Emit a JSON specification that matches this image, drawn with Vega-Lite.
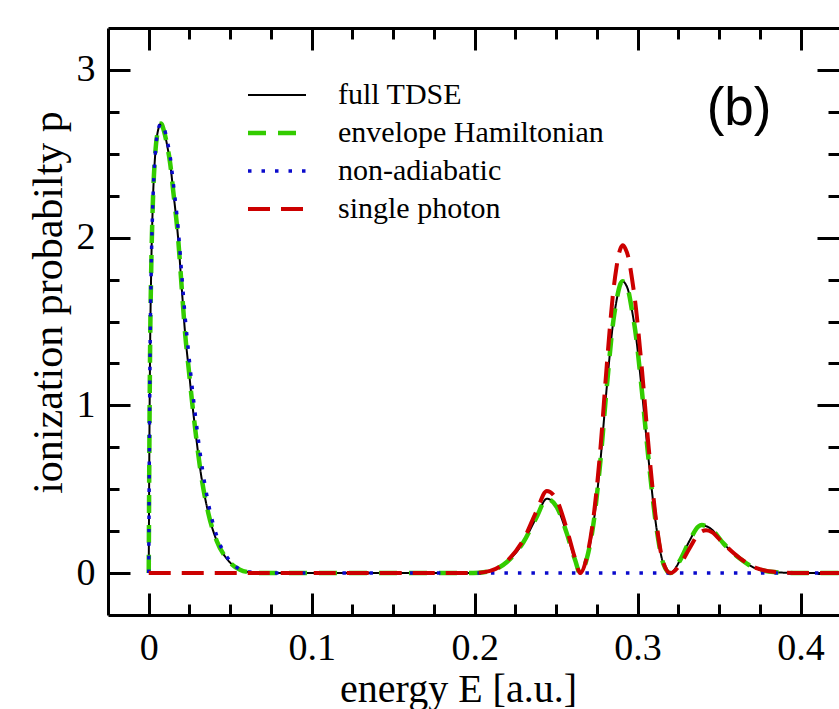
{
  "$schema": "https://vega.github.io/schema/vega-lite/v6.json",
  "width": 731,
  "height": 587,
  "autosize": {"type": "none"},
  "padding": {"left": 108, "top": 28, "right": 0, "bottom": 94},
  "background": "white",
  "config": {
    "view": {"stroke": null},
    "axis": {
      "domainColor": "black", "domainWidth": 3, "tickColor": "black", "tickWidth": 3,
      "labelFont": "Liberation Serif", "labelFontSize": 38, "labelColor": "black",
      "titleFont": "Liberation Serif", "titleFontSize": 40, "titleFontWeight": "normal", "titleColor": "black",
      "grid": false
    },
    "legend": {
      "labelFont": "Liberation Serif", "labelFontSize": 30, "labelColor": "black", "labelLimit": 0
    }
  },
  "data": {
    "values": [
      {"E": 0, "tdse": 0, "envelope": 0, "nonadiabatic": 0, "single": 0},
      {"E": 0.0003, "tdse": 0.6, "envelope": 0.6, "nonadiabatic": 0.6, "single": 0},
      {"E": 0.0008, "tdse": 1.3, "envelope": 1.3, "nonadiabatic": 1.3, "single": 0},
      {"E": 0.0015, "tdse": 1.8, "envelope": 1.8, "nonadiabatic": 1.8, "single": 0},
      {"E": 0.0025, "tdse": 2.2, "envelope": 2.2, "nonadiabatic": 2.2, "single": 0},
      {"E": 0.004, "tdse": 2.5, "envelope": 2.5, "nonadiabatic": 2.5, "single": 0},
      {"E": 0.0055, "tdse": 2.63, "envelope": 2.63, "nonadiabatic": 2.63, "single": 0},
      {"E": 0.0075, "tdse": 2.68, "envelope": 2.68, "nonadiabatic": 2.68, "single": 0},
      {"E": 0.0095, "tdse": 2.63, "envelope": 2.63, "nonadiabatic": 2.65, "single": 0},
      {"E": 0.0115, "tdse": 2.54, "envelope": 2.54, "nonadiabatic": 2.57, "single": 0},
      {"E": 0.0132, "tdse": 2.44, "envelope": 2.44, "nonadiabatic": 2.48, "single": 0},
      {"E": 0.015, "tdse": 2.28, "envelope": 2.28, "nonadiabatic": 2.33, "single": 0},
      {"E": 0.018, "tdse": 2.0, "envelope": 2.0, "nonadiabatic": 2.06, "single": 0},
      {"E": 0.0204, "tdse": 1.68, "envelope": 1.68, "nonadiabatic": 1.76, "single": 0},
      {"E": 0.0224, "tdse": 1.42, "envelope": 1.42, "nonadiabatic": 1.52, "single": 0},
      {"E": 0.0245, "tdse": 1.22, "envelope": 1.22, "nonadiabatic": 1.31, "single": 0},
      {"E": 0.0265, "tdse": 1.03, "envelope": 1.03, "nonadiabatic": 1.12, "single": 0},
      {"E": 0.0285, "tdse": 0.86, "envelope": 0.86, "nonadiabatic": 0.95, "single": 0},
      {"E": 0.0316, "tdse": 0.62, "envelope": 0.62, "nonadiabatic": 0.71, "single": 0},
      {"E": 0.0365, "tdse": 0.36, "envelope": 0.36, "nonadiabatic": 0.42, "single": 0},
      {"E": 0.0418, "tdse": 0.19, "envelope": 0.19, "nonadiabatic": 0.22, "single": 0},
      {"E": 0.0488, "tdse": 0.075, "envelope": 0.075, "nonadiabatic": 0.085, "single": 0},
      {"E": 0.056, "tdse": 0.02, "envelope": 0.02, "nonadiabatic": 0.022, "single": 0},
      {"E": 0.062, "tdse": 0.005, "envelope": 0.005, "nonadiabatic": 0.006, "single": 0},
      {"E": 0.07, "tdse": 0, "envelope": 0, "nonadiabatic": 0, "single": 0},
      {"E": 0.12, "tdse": 0, "envelope": 0, "nonadiabatic": 0, "single": 0},
      {"E": 0.17, "tdse": 0, "envelope": 0, "nonadiabatic": 0, "single": 0},
      {"E": 0.199, "tdse": 0, "envelope": 0, "nonadiabatic": 0, "single": 0},
      {"E": 0.2095, "tdse": 0.012, "envelope": 0.012, "nonadiabatic": 0, "single": 0.013},
      {"E": 0.2198, "tdse": 0.066, "envelope": 0.066, "nonadiabatic": 0, "single": 0.072},
      {"E": 0.23, "tdse": 0.185, "envelope": 0.185, "nonadiabatic": 0, "single": 0.2},
      {"E": 0.238, "tdse": 0.334, "envelope": 0.334, "nonadiabatic": 0, "single": 0.37},
      {"E": 0.2443, "tdse": 0.443, "envelope": 0.443, "nonadiabatic": 0, "single": 0.49},
      {"E": 0.2504, "tdse": 0.394, "envelope": 0.394, "nonadiabatic": 0, "single": 0.435},
      {"E": 0.2566, "tdse": 0.235, "envelope": 0.235, "nonadiabatic": 0, "single": 0.26},
      {"E": 0.2617, "tdse": 0.076, "envelope": 0.076, "nonadiabatic": 0, "single": 0.085},
      {"E": 0.2647, "tdse": 0, "envelope": 0, "nonadiabatic": 0, "single": 0},
      {"E": 0.2688, "tdse": 0.085, "envelope": 0.085, "nonadiabatic": 0, "single": 0.095},
      {"E": 0.2729, "tdse": 0.294, "envelope": 0.294, "nonadiabatic": 0, "single": 0.33},
      {"E": 0.277, "tdse": 0.65, "envelope": 0.65, "nonadiabatic": 0, "single": 0.72},
      {"E": 0.2811, "tdse": 1.11, "envelope": 1.11, "nonadiabatic": 0, "single": 1.24},
      {"E": 0.2852, "tdse": 1.51, "envelope": 1.51, "nonadiabatic": 0, "single": 1.69},
      {"E": 0.287, "tdse": 1.62, "envelope": 1.62, "nonadiabatic": 0, "single": 1.82},
      {"E": 0.2882, "tdse": 1.68, "envelope": 1.68, "nonadiabatic": 0, "single": 1.89},
      {"E": 0.2895, "tdse": 1.725, "envelope": 1.725, "nonadiabatic": 0, "single": 1.935},
      {"E": 0.2909, "tdse": 1.74, "envelope": 1.74, "nonadiabatic": 0, "single": 1.955},
      {"E": 0.2925, "tdse": 1.725, "envelope": 1.725, "nonadiabatic": 0, "single": 1.935},
      {"E": 0.2944, "tdse": 1.68, "envelope": 1.68, "nonadiabatic": 0, "single": 1.88},
      {"E": 0.2965, "tdse": 1.57, "envelope": 1.57, "nonadiabatic": 0, "single": 1.76},
      {"E": 0.2985, "tdse": 1.45, "envelope": 1.45, "nonadiabatic": 0, "single": 1.62},
      {"E": 0.3026, "tdse": 1.09, "envelope": 1.09, "nonadiabatic": 0, "single": 1.22},
      {"E": 0.3066, "tdse": 0.69, "envelope": 0.69, "nonadiabatic": 0, "single": 0.77},
      {"E": 0.3118, "tdse": 0.255, "envelope": 0.255, "nonadiabatic": 0, "single": 0.28},
      {"E": 0.3158, "tdse": 0.056, "envelope": 0.056, "nonadiabatic": 0, "single": 0.062},
      {"E": 0.32, "tdse": 0, "envelope": 0, "nonadiabatic": 0, "single": 0},
      {"E": 0.326, "tdse": 0.075, "envelope": 0.075, "nonadiabatic": 0, "single": 0.05},
      {"E": 0.332, "tdse": 0.195, "envelope": 0.195, "nonadiabatic": 0, "single": 0.15},
      {"E": 0.3373, "tdse": 0.278, "envelope": 0.278, "nonadiabatic": 0, "single": 0.232},
      {"E": 0.3394, "tdse": 0.286, "envelope": 0.286, "nonadiabatic": 0, "single": 0.248},
      {"E": 0.342, "tdse": 0.28, "envelope": 0.28, "nonadiabatic": 0, "single": 0.255},
      {"E": 0.3455, "tdse": 0.26, "envelope": 0.26, "nonadiabatic": 0, "single": 0.245},
      {"E": 0.3527, "tdse": 0.177, "envelope": 0.177, "nonadiabatic": 0, "single": 0.175},
      {"E": 0.3629, "tdse": 0.085, "envelope": 0.085, "nonadiabatic": 0, "single": 0.088},
      {"E": 0.373, "tdse": 0.026, "envelope": 0.026, "nonadiabatic": 0, "single": 0.03},
      {"E": 0.385, "tdse": 0.005, "envelope": 0.005, "nonadiabatic": 0, "single": 0.006},
      {"E": 0.4, "tdse": 0, "envelope": 0, "nonadiabatic": 0, "single": 0},
      {"E": 0.425, "tdse": 0, "envelope": 0, "nonadiabatic": 0, "single": 0}
    ]
  },
  "layer": [
    {
      "transform": [
        {"fold": ["tdse", "envelope", "nonadiabatic", "single"], "as": ["series", "p"]},
        {"filter": "datum.series == 'tdse'"}
      ],
      "mark": {"type": "line", "strokeWidth": 2, "interpolate": "monotone", "clip": true},
      "encoding": {
        "x": {"field": "E", "type": "quantitative", "scale": {"domain": [-0.025, 0.4236], "nice": false, "zero": false},
          "axis": {"orient": "bottom", "values": [0, 0.1, 0.2, 0.3, 0.4], "format": "~g", "tickSize": -22, "labelPadding": 36, "title": "energy E [a.u.]", "titlePadding": 2, "titleX": 350}},
        "y": {"field": "p", "type": "quantitative", "scale": {"domain": [-0.25, 3.25], "nice": false, "zero": false},
          "axis": {"orient": "left", "values": [0, 1, 2, 3], "format": "d", "tickSize": -22, "labelPadding": 35, "title": "ionization probabilty p", "titleFontSize": 42, "titlePadding": 6, "titleY": 274}},
        "color": {
          "field": "series", "type": "nominal",
          "scale": {"domain": ["tdse", "envelope", "nonadiabatic", "single"], "range": ["#000000", "#33cc00", "#0a0acc", "#cc0000"]},
          "legend": {
            "orient": "none", "legendX": 154, "legendY": 52, "title": null, "padding": 0,
            "symbolType": "stroke", "symbolSize": 3364, "symbolStrokeWidth": 3,
            "labelFont": "Liberation Serif", "labelFontSize": 30, "labelColor": "black", "labelOffset": 46, "labelLimit": 0,
            "rowPadding": 8,
            "labelExpr": "datum.label == 'tdse' ? 'full TDSE' : datum.label == 'envelope' ? 'envelope Hamiltonian' : datum.label == 'nonadiabatic' ? 'non-adiabatic' : 'single photon'",
            "encode": {"symbols": {"update": {"strokeWidth": {"signal": "datum.value == 'tdse' ? 2 : datum.value == 'envelope' ? 4.5 : datum.value == 'nonadiabatic' ? 3.5 : 4"}}}}
          }
        },
        "strokeDash": {
          "field": "series", "type": "nominal",
          "scale": {"domain": ["tdse", "envelope", "nonadiabatic", "single"], "range": [[1, 0], [18, 12], [3.5, 10], [22, 11]]},
          "legend": {
            "orient": "none", "legendX": 154, "legendY": 52, "title": null, "padding": 0,
            "symbolType": "stroke", "symbolSize": 3364,
            "labelFont": "Liberation Serif", "labelFontSize": 30, "labelColor": "black", "labelOffset": 46, "labelLimit": 0,
            "rowPadding": 8,
            "labelExpr": "datum.label == 'tdse' ? 'full TDSE' : datum.label == 'envelope' ? 'envelope Hamiltonian' : datum.label == 'nonadiabatic' ? 'non-adiabatic' : 'single photon'"
          }
        }
      }
    },
    {
      "transform": [
        {"fold": ["tdse", "envelope", "nonadiabatic", "single"], "as": ["series", "p"]},
        {"filter": "datum.series == 'envelope'"}
      ],
      "mark": {"type": "line", "strokeWidth": 4.5, "interpolate": "monotone", "clip": true},
      "encoding": {
        "x": {"field": "E", "type": "quantitative", "axis": {"orient": "bottom", "values": [0.025, 0.05, 0.075, 0.125, 0.15, 0.175, 0.225, 0.25, 0.275, 0.325, 0.35, 0.375, 0.425], "tickSize": -11, "labels": false, "domain": false, "title": null}},
        "y": {"field": "p", "type": "quantitative", "axis": {"orient": "left", "values": [0.25, 0.5, 0.75, 1.25, 1.5, 1.75, 2.25, 2.5, 2.75], "tickSize": -11, "labels": false, "domain": false, "title": null}},
        "color": {"field": "series", "type": "nominal"},
        "strokeDash": {"field": "series", "type": "nominal"}
      }
    },
    {
      "transform": [
        {"fold": ["tdse", "envelope", "nonadiabatic", "single"], "as": ["series", "p"]},
        {"filter": "datum.series == 'nonadiabatic'"}
      ],
      "mark": {"type": "line", "strokeWidth": 3.5, "interpolate": "monotone", "clip": true},
      "encoding": {
        "x": {"field": "E", "type": "quantitative", "axis": {"orient": "top", "values": [0, 0.1, 0.2, 0.3, 0.4], "tickSize": -22, "labels": false, "domain": true, "title": null}},
        "y": {"field": "p", "type": "quantitative", "axis": {"orient": "right", "values": [0, 1, 2, 3], "tickSize": -22, "labels": false, "domain": false, "title": null}},
        "color": {"field": "series", "type": "nominal"},
        "strokeDash": {"field": "series", "type": "nominal"}
      }
    },
    {
      "transform": [
        {"fold": ["tdse", "envelope", "nonadiabatic", "single"], "as": ["series", "p"]},
        {"filter": "datum.series == 'single'"}
      ],
      "mark": {"type": "line", "strokeWidth": 4, "interpolate": "monotone", "clip": true},
      "encoding": {
        "x": {"field": "E", "type": "quantitative", "axis": {"orient": "top", "values": [0.025, 0.05, 0.075, 0.125, 0.15, 0.175, 0.225, 0.25, 0.275, 0.325, 0.35, 0.375, 0.425], "tickSize": -11, "labels": false, "domain": false, "title": null}},
        "y": {"field": "p", "type": "quantitative", "axis": {"orient": "right", "values": [0.25, 0.5, 0.75, 1.25, 1.5, 1.75, 2.25, 2.5, 2.75], "tickSize": -11, "labels": false, "domain": false, "title": null}},
        "color": {"field": "series", "type": "nominal"},
        "strokeDash": {"field": "series", "type": "nominal"}
      }
    },
    {
      "data": {"values": [{"label": "(b)"}]},
      "mark": {"type": "text", "font": "Liberation Sans", "fontSize": 53, "color": "black", "align": "center", "baseline": "middle"},
      "encoding": {
        "x": {"datum": 0.3623, "type": "quantitative", "axis": null},
        "y": {"datum": 2.77, "type": "quantitative", "axis": null},
        "text": {"field": "label"}
      }
    }
  ],
  "resolve": {"axis": {"x": "independent", "y": "independent"}}
}
